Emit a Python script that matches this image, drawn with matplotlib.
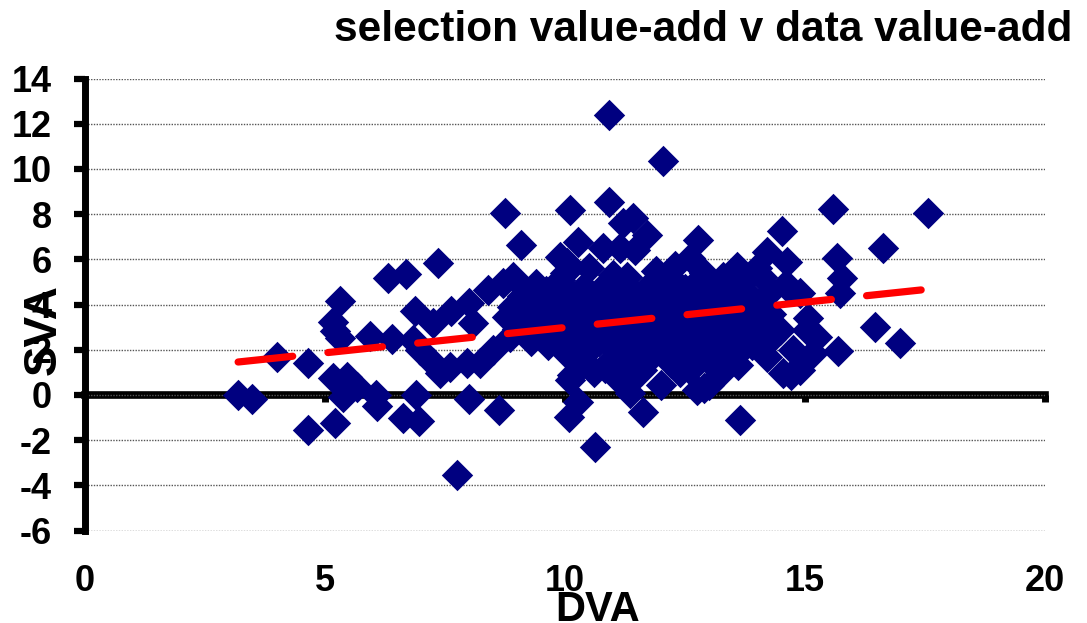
"""SVA v DVA scatter with dashed linear trend line."""
import matplotlib

matplotlib.use("Agg")
import matplotlib.pyplot as plt

plt.rcParams["font.family"] = ["Liberation Sans", "DejaVu Sans"]
plt.rcParams["font.weight"] = "bold"
plt.rcParams["axes.unicode_minus"] = False

TITLE = "selection value-add v data value-add"
X_LABEL = "DVA"
Y_LABEL = "SVA"

x_ticks = [0, 5, 10, 15, 20]
y_ticks = [-6, -4, -2, 0, 2, 4, 6, 8, 10, 12, 14]

# points, grouped by region
dva_left = [3.19, 3.48, 4.00, 4.65, 4.65, 5.21, 5.31, 5.17, 5.20, 5.31,
            5.17, 5.37, 5.45, 5.66, 5.94, 6.06, 6.08, 6.40, 6.31, 6.69,
            7.35, 6.88, 6.83, 6.98, 6.63, 6.96, 6.90, 7.25, 7.25, 7.40,
            7.60, 7.62, 7.75, 8.00, 7.96, 8.00, 8.08, 8.23, 8.40, 8.62,
            8.50, 8.71, 8.79, 8.85, 8.92, 8.75]
sva_left = [0.00, -0.18, 1.68, 1.40, -1.57, -1.26, 4.16, 3.23, 2.83, 2.52,
            0.75, -0.09, 0.80, 0.35, 2.61, 0.00, -0.49, 2.48, 5.18, 5.35,
            5.84, 3.72, 2.43, 1.99, -1.02, -1.15, 0.00, 3.19, 1.42, 0.97,
            1.24, 3.72, -3.54, 4.07, 1.42, -0.18, 3.19, 1.42, 4.65, -0.68,
            1.99, 4.96, 3.45, 2.57, 5.22, 8.05]

dva_high = [9.08, 10.92, 12.04, 10.10, 10.92, 11.20, 11.42, 11.70, 10.27, 9.90,
            10.80, 11.15, 11.46, 14.52, 14.21, 12.77, 13.58, 12.60, 12.10, 10.04]
sva_high = [6.64, 12.39, 10.35, 8.19, 8.54, 7.60, 7.83, 7.08, 6.77, 6.10,
            6.50, 6.50, 6.42, 7.25, 6.33, 6.86, 5.66, 6.06, 5.22, 5.84]

dva_low = [10.08, 10.27, 10.63, 11.63, 13.65, 11.35, 10.15, 11.08, 11.30, 12.00,
           12.60, 12.75, 13.00, 13.40, 13.60, 14.20, 14.70, 14.90, 10.10, 12.90,
           10.83, 10.30, 9.65, 9.96, 13.90]
sva_low = [-0.97, -0.31, -2.30, -0.75, -1.10, 0.09, 0.90, 0.75, 0.44, 0.44,
           1.10, 0.22, 0.44, 1.46, 1.33, 1.68, 0.90, 1.10, 0.66, 0.31,
           1.20, 1.77, 2.20, 2.65, 2.20]

dva_right = [15.58, 17.56, 16.63, 15.67, 15.77, 15.73, 16.46, 16.98, 15.69, 14.62,
             14.69, 14.90, 15.06, 15.04, 15.25, 15.17, 14.75, 14.54, 14.48]
sva_right = [8.23, 8.05, 6.50, 6.06, 5.18, 4.51, 3.00, 2.30, 1.95, 5.88,
             4.65, 4.51, 3.41, 2.88, 2.57, 1.86, 1.99, 0.97, 2.88]

# the dense middle blob, one line per rough band
dva_mid = [10.0, 10.5, 11.0, 11.9, 12.3, 12.9, 13.3, 14.0,
           9.4, 9.9, 10.4, 10.9, 11.3, 11.8, 12.3, 12.8, 13.2, 13.7, 14.1, 14.6,
           9.1, 9.6, 10.1, 10.6, 11.1, 11.5, 12.0, 12.5, 12.9, 13.4, 13.9, 14.3,
           8.9, 9.4, 9.9, 10.3, 10.8, 11.3, 11.7, 12.2, 12.7, 13.1, 13.6, 14.1,
           9.2, 9.7, 10.1, 10.6, 11.0, 11.5, 12.0, 12.4, 12.9, 13.3, 13.8, 14.3,
           9.0, 9.5, 9.9, 10.4, 10.8, 11.3, 11.8, 12.2, 12.6, 13.1, 13.6, 14.0,
           9.3, 9.8, 10.2, 10.7, 11.1, 11.6, 12.0, 12.5, 12.9, 13.4, 13.8, 14.3,
           10.0, 10.5, 11.0, 11.4, 11.9, 12.3, 12.8, 13.2, 13.7,
           10.4, 10.9, 11.3, 11.7, 12.2, 12.6, 13.0,
           10.6, 11.2, 11.6, 12.4, 13.2]
sva_mid = [5.4, 5.6, 5.3, 5.5, 5.7, 5.4, 5.2, 5.6,
           4.9, 5.1, 4.8, 5.0, 5.2, 4.9, 5.0, 5.1, 4.8, 5.0, 5.2, 4.9,
           4.4, 4.6, 4.5, 4.3, 4.6, 4.4, 4.5, 4.7, 4.4, 4.5, 4.3, 4.6,
           3.9, 4.0, 4.1, 3.8, 4.0, 4.1, 3.9, 4.0, 3.8, 4.1, 3.9, 4.0,
           3.4, 3.6, 3.5, 3.3, 3.6, 3.4, 3.5, 3.6, 3.3, 3.5, 3.4, 3.6,
           2.9, 3.0, 3.1, 2.9, 3.0, 3.1, 2.8, 3.0, 3.1, 2.9, 3.0, 3.1,
           2.4, 2.5, 2.6, 2.4, 2.5, 2.6, 2.4, 2.5, 2.6, 2.4, 2.5, 2.5,
           1.9, 2.0, 2.1, 1.9, 2.0, 2.1, 1.9, 2.0, 2.1,
           1.5, 1.4, 1.6, 1.5, 1.4, 1.6, 1.5,
           1.0, 0.9, 1.1, 1.0, 0.9]

# linear trend end points
trend_dva = [3.19, 17.56]
trend_sva = [1.46, 4.68]


def main():
    dva = dva_left + dva_high + dva_low + dva_right + dva_mid
    sva = sva_left + sva_high + sva_low + sva_right + sva_mid

    W, H = 1087, 623
    fig = plt.figure(figsize=(W / 100, H / 100), dpi=100)
    ax = fig.add_axes([85 / W, 1 - 530.6 / H, 960 / W, 452 / H])

    ax.scatter(dva, sva, marker="D", s=16 ** 2, color="#000080",
               linewidths=0, zorder=2)
    ax.plot(trend_dva, trend_sva, color="#ff0000", lw=5.2,
            linestyle=(0, (7.6, 4.9)), dash_capstyle="round", zorder=3)

    ax.set_xlim(0, 20)
    ax.set_ylim(-6, 14)
    ax.set_xticks(x_ticks)
    ax.set_yticks(y_ticks)

    ax.set_axisbelow(True)
    ax.yaxis.grid(True, color="#555555", lw=1.0, linestyle=(0, (1, 1)))

    for side in ("top", "right", "bottom"):
        ax.spines[side].set_visible(False)
    ax.spines["left"].set_linewidth(5)

    ax.tick_params(axis="y", length=8, width=4.5, pad=16, labelsize=26)
    ax.tick_params(axis="x", length=0, pad=24, labelsize=26)

    # horizontal axis line drawn through y = 0
    zero_pos = (0 - ax.get_ylim()[0]) / (ax.get_ylim()[1] - ax.get_ylim()[0])
    sec = ax.secondary_xaxis(zero_pos)
    sec.set_xticks(x_ticks[1:])
    sec.tick_params(direction="out", length=5, width=5, labelbottom=False,
                    labeltop=False)
    for spine in sec.spines.values():
        spine.set_linewidth(5.5)

    fig.text(1072 / W, 1 - 41 / H, TITLE, ha="right", va="baseline",
             fontsize=30.5, fontweight="bold")
    fig.text(598 / W, 1 - 590 / H, X_LABEL, ha="center", va="top",
             fontsize=30, fontweight="bold")
    fig.text(44 / W, 1 - 330 / H, Y_LABEL, ha="center", va="center",
             rotation=90, fontsize=33, fontweight="bold")

    fig.savefig("out.png", dpi=100)


if __name__ == "__main__":
    main()
